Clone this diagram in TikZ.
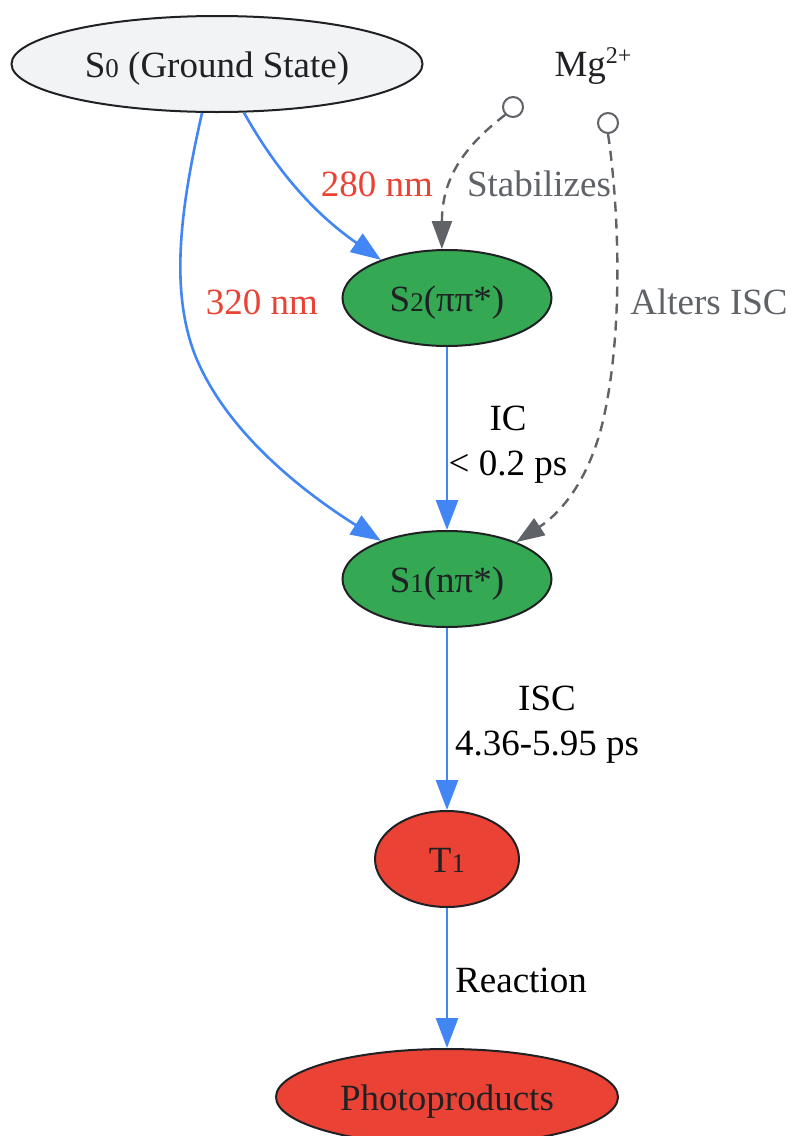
\documentclass[tikz,border=0pt]{standalone}
\usepackage{fontspec}
\setmainfont{Liberation Serif}
\usetikzlibrary{shapes.geometric,arrows.meta}
\definecolor{eblue}{HTML}{4285F4}
\definecolor{ered}{HTML}{EA4335}
\definecolor{egreen}{HTML}{34A853}
\definecolor{egray}{HTML}{5F6368}
\definecolor{elight}{HTML}{F1F3F4}
\definecolor{etext}{HTML}{202124}
\newcommand\lowd[1]{{\fontsize{13.5pt}{13.5pt}\selectfont #1}}
\newcommand\highd[1]{\raisebox{0.33em}{\fontsize{12pt}{12pt}\selectfont #1}}
\tikzset{
  state/.style={ellipse, draw=etext, line width=1pt, inner sep=0pt, text=etext,
    text height=15pt, text depth=2pt,
    font=\fontsize{18.5pt}{22.5pt}\selectfont},
  lbl/.style={font=\fontsize{18.5pt}{22.5pt}\selectfont, align=center, inner sep=0pt},
  flow/.style={draw=eblue, line width=1.3pt, -{Triangle[length=15pt,width=11pt]}},
  influence/.style={draw=egray, line width=1.2pt, dash pattern=on 5pt off 3.5pt,
    -{Triangle[length=14pt,width=10pt]}},
  knob/.style={circle, draw=egray, fill=white, line width=1pt, minimum size=10pt, inner sep=0pt}
}
\begin{document}
\begin{tikzpicture}[x=0.5pt,y=-0.5pt]
\useasboundingbox (0,0) rectangle (792,1136);
% nodes
\node[state, fill=elight, minimum width=205.5pt, minimum height=48pt] (S0) at (217,64) {S\lowd{0} (Ground State)};
\node[state, fill=egreen, minimum width=104.5pt, minimum height=48pt] (S2) at (447,298) {S\lowd{2}(ππ*)};
\node[state, fill=egreen, minimum width=104.5pt, minimum height=48pt] (S1) at (447,579) {S\lowd{1}(nπ*)};
\node[state, fill=ered, minimum width=72pt, minimum height=48pt] (T1) at (447,859) {T\lowd{1}};
\node[state, fill=ered, minimum width=171pt, minimum height=48pt] (P) at (447,1097) {Photoproducts};
\node[lbl, text=etext] (Mg) at (593,66) {Mg\highd{2+}};
% open circle starts of the Mg edges
\node[knob] (k1) at (513,107) {};
\node[knob] (k2) at (608,123) {};
% blue flows
\draw[flow] (S0.-61.6) .. controls (275,168) and (312,212) .. (S2.150);
\draw[flow] (S0.-107.4) .. controls (180,210) and (170,290) .. (195,355)
   .. controls (225,430) and (300,490) .. (S1.150);
\draw[flow] (S2.south) -- (S1.north);
\draw[flow] (S1.south) -- (T1.north);
\draw[flow] (T1.south) -- (P.north);
% dashed influences
\draw[influence] (k1.225) .. controls (462,148) and (442,180) .. (S2.96);
\draw[influence] (k2.south) .. controls (618,200) and (625,330) .. (602,425)
   .. controls (588,480) and (562,512) .. (S1.28);
% labels
\node[lbl, text=ered] (l280) at (377,184) {280 nm};
\node[lbl, text=ered] (l320) at (262,302) {320 nm};
\node[lbl, text=egray, fill=white] (lstab) at (539,184) {Stabilizes};
\node[lbl, text=egray] (lalt) at (709,302) {Alters ISC};
\node[lbl, text=black] (lic) at (508,445) {IC\\< 0.2 ps};
\node[lbl, text=black] (lisc) at (547,725) {ISC\\4.36-5.95 ps};
\node[lbl, text=black] (lreac) at (521,980) {Reaction};
\end{tikzpicture}
\end{document}
